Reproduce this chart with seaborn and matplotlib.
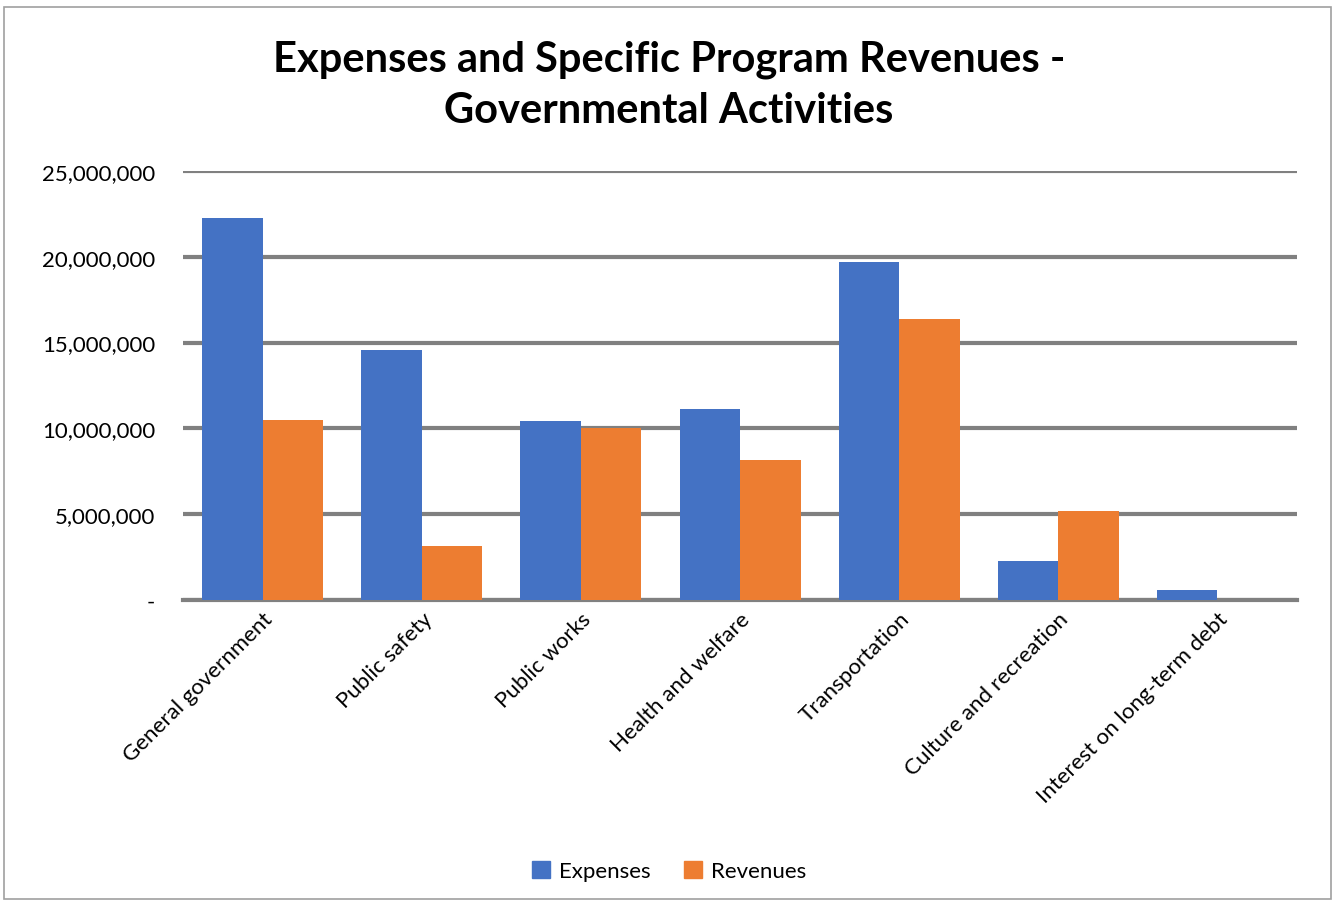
import pandas as pd
import matplotlib.pyplot as plt
import seaborn as sns
from matplotlib.patches import Rectangle
from matplotlib.ticker import FuncFormatter

# Values
categories = ["General government", "Public safety", "Public works",
              "Health and welfare", "Transportation", "Culture and recreation",
              "Interest on long-term debt"]
expenses = [22250000, 14550000, 10450000, 11150000, 19700000, 2250000, 600000]
revenues = [10500000, 3150000, 10050000, 8150000, 16400000, 5200000, 0]
title_lines = ["Expenses and Specific Program Revenues -", "Governmental Activities"]

df = pd.DataFrame({
    "Category": categories * 2,
    "Amount": expenses + revenues,
    "Series": ["Expenses"] * len(categories) + ["Revenues"] * len(categories),
})

sns.set_style("white")
plt.rcParams['font.family'] = ['Lato', 'DejaVu Sans']
plt.rcParams['text.color'] = 'black'

fig = plt.figure(figsize=(13.38, 9.03), dpi=100)
ax = fig.add_axes([0.1368, 0.3345, 0.8326, 0.475])

sns.barplot(data=df, x="Category", y="Amount", hue="Series",
            palette={"Expenses": "#4472C4", "Revenues": "#ED7D31"},
            width=0.76, saturation=1, linewidth=0, ax=ax, legend=False, zorder=3)

ax.set_ylim(0, 25000000)
ax.set_xlim(-0.5, len(categories) - 0.5)
ax.set_yticks(range(0, 25000001, 5000000))
ax.yaxis.set_major_formatter(FuncFormatter(lambda v, p: "-" if v == 0 else f"{int(v):,}"))
ax.grid(axis="y", color="#808080", linewidth=3, zorder=1)
ax.set_axisbelow(True)
for s in ["top", "right", "left"]:
    ax.spines[s].set_visible(False)
ax.spines["bottom"].set_color("#808080")
ax.spines["bottom"].set_linewidth(3)
ax.tick_params(axis="both", length=0, labelsize=16, colors="#000000", pad=20)
ax.tick_params(axis="x", pad=6)
plt.setp(ax.get_xticklabels(), rotation=45, ha="right", rotation_mode="anchor")
ax.set_xlabel("")
ax.set_ylabel("")

# two-line title, one text per line
for line, ypos in zip(title_lines, [0.9203, 0.8638]):
    fig.text(0.5, ypos, line, ha="center", va="baseline", fontsize=30,
             fontweight="bold", color="black")

handles = [Rectangle((0, 0), 1, 1, color="#4472C4"), Rectangle((0, 0), 1, 1, color="#ED7D31")]
fig.legend(handles, ["Expenses", "Revenues"], loc="center", bbox_to_anchor=(0.5, 0.034),
           ncol=2, frameon=False, fontsize=16, handlelength=0.8, handleheight=0.8,
           handletextpad=0.4, columnspacing=1.5)

fig.patches.append(Rectangle((0.003, 0.003), 0.992, 0.988, transform=fig.transFigure,
                             fill=False, edgecolor="#a0a0a0", linewidth=1.2))

fig.savefig("out.png", dpi=100)
